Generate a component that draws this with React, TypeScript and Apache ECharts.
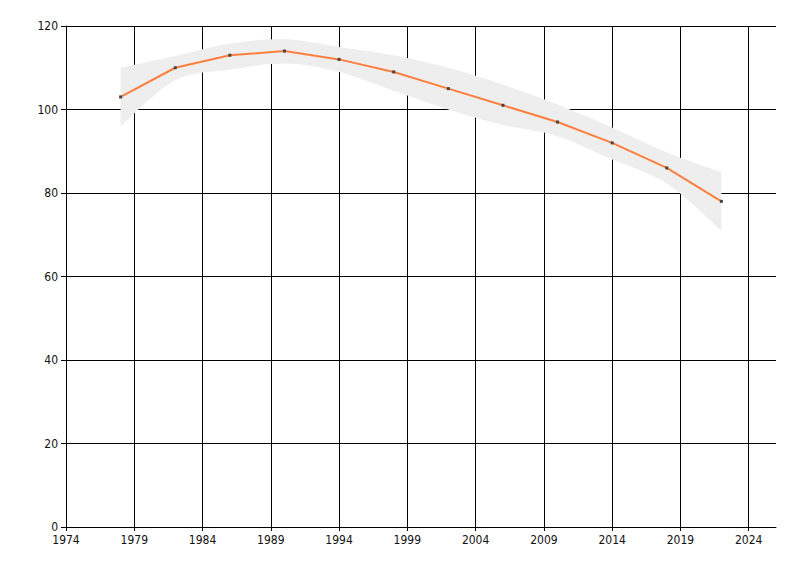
import React, { useEffect, useRef } from "react";
import * as echarts from "echarts";

const years = [1978, 1982, 1986, 1990, 1994, 1998, 2002, 2006, 2010, 2014, 2018, 2022];
const values = [103, 110, 113, 114, 112, 109, 105, 101, 97, 92, 86, 78];
const bandLower = [96, 107, 109.5, 111, 109, 104.5, 100, 96.3, 93.6, 88, 82.3, 71];
const bandUpper = [110, 112.8, 115.8, 116.8, 115, 113, 110, 106, 101.2, 95.7, 89.7, 85];

const FONT = "'Liberation Sans Narrow', 'DejaVu Sans Condensed', 'Liberation Sans', sans-serif";

type Pt = number[];

function smoothSegments(pts: Pt[], t = 1): string {
  // Catmull-Rom to cubic Bezier, continuing from the current point pts[0]
  let d = "";
  for (let i = 0; i < pts.length - 1; i++) {
    const p0 = pts[i - 1] || pts[i];
    const p1 = pts[i];
    const p2 = pts[i + 1];
    const p3 = pts[i + 2] || p2;
    const c1x = p1[0] + ((p2[0] - p0[0]) / 6) * t;
    const c1y = p1[1] + ((p2[1] - p0[1]) / 6) * t;
    const c2x = p2[0] - ((p3[0] - p1[0]) / 6) * t;
    const c2y = p2[1] - ((p3[1] - p1[1]) / 6) * t;
    d += ` C ${c1x} ${c1y} ${c2x} ${c2y} ${p2[0]} ${p2[1]}`;
  }
  return d;
}

export default function App() {
  const ref = useRef<HTMLDivElement>(null);
  useEffect(() => {
    if (!ref.current) return;
    const chart = echarts.init(ref.current, undefined, { renderer: "svg" });
    const lineData = years.map((y, i) => [y, values[i]]);
    chart.setOption({
      animation: false,
      backgroundColor: "#ffffff",
      grid: { left: 66, top: 26, right: 24, bottom: 49, containLabel: false },
      xAxis: {
        type: "value",
        min: 1974,
        max: 2026,
        interval: 5,
        axisLine: { show: true, lineStyle: { color: "#000", width: 1 } },
        axisTick: { show: true, length: 4, lineStyle: { color: "#000" } },
        axisLabel: {
          color: "#111",
          fontSize: 12,
          fontFamily: FONT,
          margin: 7,
          showMaxLabel: false,
          formatter: (v: number) => String(v),
        },
        splitLine: { show: true, showMaxLine: false, lineStyle: { color: "#000", width: 1 } },
      },
      yAxis: {
        type: "value",
        min: 0,
        max: 120,
        interval: 20,
        axisLine: { show: true, lineStyle: { color: "#000", width: 1 } },
        axisTick: { show: true, length: 5, lineStyle: { color: "#000" } },
        axisLabel: { color: "#111", fontSize: 12, fontFamily: FONT, margin: 8 },
        splitLine: { show: true, lineStyle: { color: "#000", width: 1 } },
      },
      series: [
        {
          type: "custom",
          data: [[years[0], bandLower[0]]],
          silent: true,
          z: 1,
          renderItem: (params: any, api: any) => {
            const upper = years.map((y, i) => api.coord([y, bandUpper[i]]));
            const lower = years.map((y, i) => api.coord([y, bandLower[i]])).reverse();
            let d = `M ${upper[0][0]} ${upper[0][1]}`;
            d += smoothSegments(upper);
            d += ` L ${lower[0][0]} ${lower[0][1]}`;
            d += smoothSegments(lower);
            d += " Z";
            return {
              type: "path",
              shape: { pathData: d },
              style: { fill: "#eeeeee", stroke: "none" },
            };
          },
        },
        {
          type: "line",
          data: lineData,
          smooth: false,
          symbol: "rect",
          symbolSize: 3,
          itemStyle: { color: "#444444" },
          lineStyle: { color: "#ff7f3f", width: 2 },
          z: 3,
        },
      ],
    });
    return () => chart.dispose();
  }, []);
  return (
    <div
      ref={ref}
      style={{ position: "fixed", left: 0, top: 0, width: 800, height: 576, background: "#fff" }}
    />
  );
}
